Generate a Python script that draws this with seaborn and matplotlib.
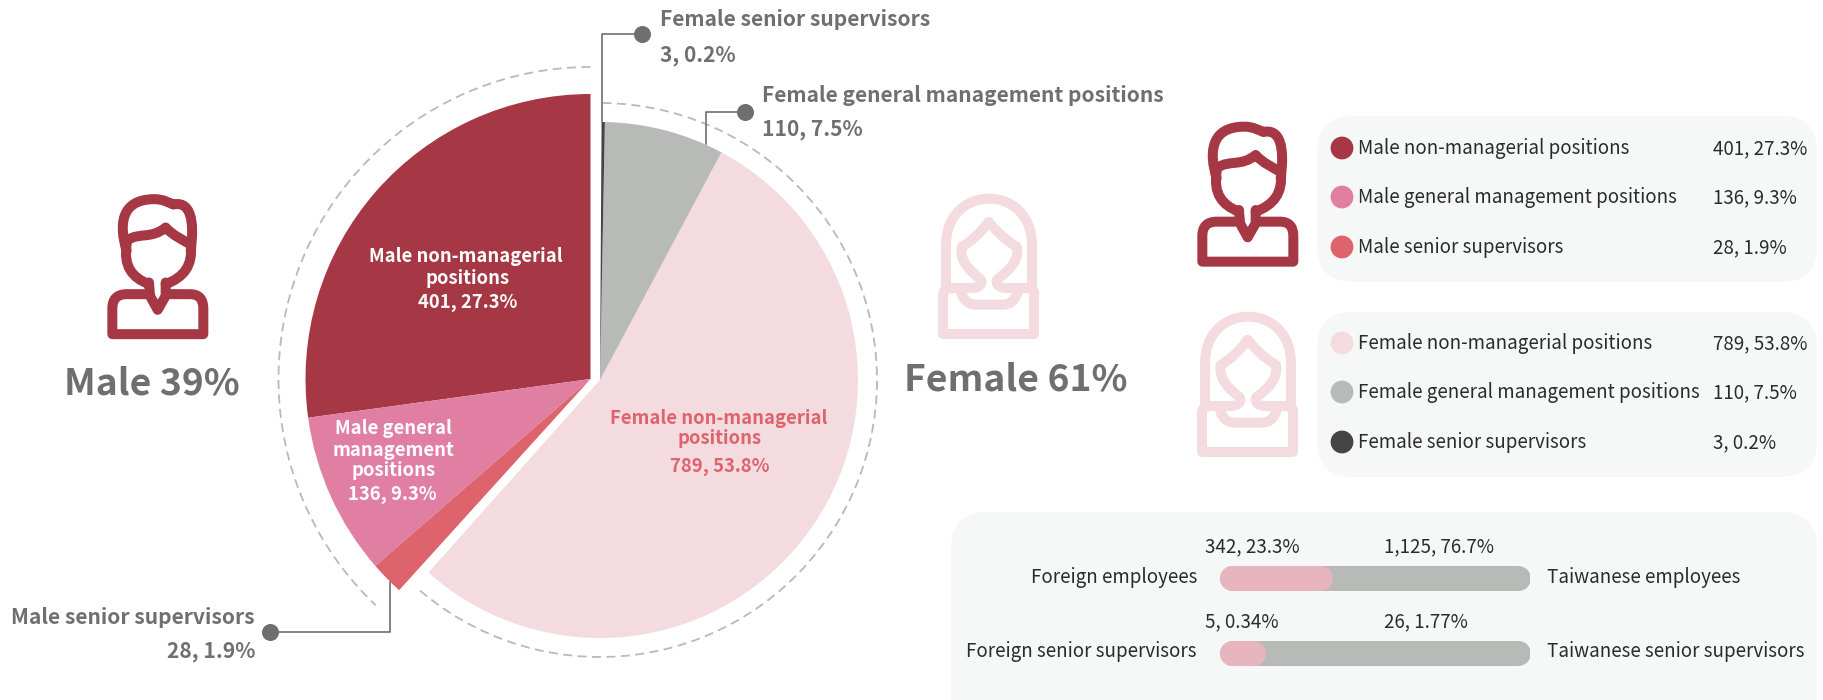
import numpy as np
import pandas as pd
import matplotlib
matplotlib.use("Agg")
import matplotlib.pyplot as plt
from matplotlib.patches import Arc, FancyBboxPatch, PathPatch
from matplotlib.path import Path
import seaborn as sns

# ---------- data ----------
male_labels = ["Male non-managerial positions", "Male general management positions", "Male senior supervisors"]
male_counts = [401, 136, 28]
male_share = ["27.3%", "9.3%", "1.9%"]
female_labels = ["Female non-managerial positions", "Female general management positions", "Female senior supervisors"]
female_counts = [789, 110, 3]
female_share = ["53.8%", "7.5%", "0.2%"]
male_colors = ["#a63744", "#e17fa3", "#dd636c"]
female_colors = ["#f4dbe0", "#b8bab8", "#474445"]
bar_left_labels = ["Foreign employees", "Foreign senior supervisors"]
bar_right_labels = ["Taiwanese employees", "Taiwanese senior supervisors"]
bar_left_values = ["342, 23.3%", "5, 0.34%"]
bar_right_values = ["1,125, 76.7%", "26, 1.77%"]
bar_fill_drawn = [36.6, 15.1]  # filled length of each track as drawn, % of track

sns.set_theme(style="white")
plt.rcParams["font.family"] = ["Noto Sans CJK TC", "DejaVu Sans"]

W, H = 1823, 700
fig = plt.figure(figsize=(W / 100, H / 100), dpi=100, facecolor="white")
ax = fig.add_axes([0, 0, 1, 1])
ax.set_facecolor("none")
Y = lambda py: H - py
PX = 0.72  # points per pixel
GREY = "#6f6f6f"
DARK = "#2b2b2b"
total = sum(male_counts) + sum(female_counts)

# ---------- panels ----------
for x0, y0, x1, y1 in [(1317, 116, 1817, 282), (1317, 312, 1817, 477), (951, 512, 1817, 740)]:
    r = 36
    ax.add_patch(FancyBboxPatch((x0 + r, Y(y1) + r), x1 - x0 - 2 * r, y1 - y0 - 2 * r,
                                boxstyle=f"round,pad={r},rounding_size={r}",
                                fc="#f6f8f7", ec="none", zorder=0))

# ---------- pies ----------
mc, fc_ = (590.5, Y(379)), (600, Y(380))
male_sweep = 0.994  # the male half is drawn very slightly short of its share
ax.pie([male_sweep * c / total for c in male_counts], colors=male_colors, center=mc, radius=285,
       startangle=90, normalize=False, frame=True, wedgeprops=dict(linewidth=0))
female_start = 90 + 360 * sum(male_counts) / total - 0.35
ax.pie([c / total for c in female_counts], colors=female_colors, center=fc_, radius=258,
       startangle=female_start, normalize=False, frame=True, wedgeprops=dict(linewidth=0))
ax.add_patch(Arc(mc, 624, 624, theta1=90, theta2=226.5, color="#b9b9b9", lw=1.3, ls=(0, (5, 3))))
ax.add_patch(Arc(fc_, 554, 554, theta1=229.5, theta2=450, color="#b9b9b9", lw=1.3, ls=(0, (5, 3))))

# ---------- callouts ----------
callouts = [([642, 602, 602], [34, 34, 122]),
            ([745, 706, 706], [112, 112, 144]),
            ([270, 390, 390], [632, 632, 582])]
for xs, ys in callouts:
    sns.lineplot(x=xs, y=[Y(v) for v in ys], sort=False, estimator=None, ax=ax,
                 color="#7a7a7a", lw=1.3, legend=False, zorder=3)
    sns.scatterplot(x=[xs[0]], y=[Y(ys[0])], ax=ax, color=GREY, s=150, linewidth=0, legend=False, zorder=4)


def txt(x, y, s, size=14, color=DARK, ha="left", weight=500, z=6):
    ax.text(x, Y(y), s, fontsize=size, color=color, ha=ha, va="center", fontweight=weight, zorder=z)


CALL = 15.1
txt(660, 20, female_labels[2], CALL, GREY, weight="bold")
txt(660, 55, f"{female_counts[2]}, {female_share[2]}", CALL, GREY, weight="bold")
txt(762, 96, female_labels[1], CALL, GREY, weight="bold")
txt(762, 129, f"{female_counts[1]}, {female_share[1]}", CALL, GREY, weight="bold")
txt(255, 617, male_labels[2], CALL, GREY, ha="right", weight="bold")
txt(255, 651, f"{male_counts[2]}, {male_share[2]}", CALL, GREY, ha="right", weight="bold")

IN = 13.3
txt(466, 256, "Male non-managerial", IN, "white", "center", "bold")
txt(468, 278, "positions", IN, "white", "center", "bold")
txt(468, 303, f"{male_counts[0]}, {male_share[0]}", IN, "white", "center", "bold")
txt(393, 429, "Male general", IN, "white", "center", "bold")
txt(393, 450, "management", IN, "white", "center", "bold")
txt(394, 471, "positions", IN, "white", "center", "bold")
txt(392, 495, f"{male_counts[1]}, {male_share[1]}", IN, "white", "center", "bold")
txt(719, 418, "Female non-managerial", IN, male_colors[2], "center", "bold")
txt(720, 439, "positions", IN, male_colors[2], "center", "bold")
txt(720, 467, f"{female_counts[0]}, {female_share[0]}", IN, male_colors[2], "center", "bold")

txt(152, 384, "Male 39%", 26.8, GREY, "center", "bold")
txt(1016, 380, "Female 61%", 26.8, GREY, "center", "bold")

# ---------- legends ----------
LEG = 13.5
for (labels, counts, share, colors, ys) in [
    (male_labels, male_counts, male_share, male_colors, [148, 197, 247]),
    (female_labels, female_counts, female_share, female_colors, [343, 392, 442]),
]:
    sns.scatterplot(x=[1342] * 3, y=[Y(v) for v in ys], hue=labels, palette=colors,
                    s=270, linewidth=0, legend=False, ax=ax, zorder=5)
    for lab, c, s, yy in zip(labels, counts, share, ys):
        txt(1358, yy + 0.5, lab, LEG)
        txt(1713, yy + 0.5, f"{c}, {s}", LEG)

# ---------- icons (local coordinates are 1/3 px) ----------
M, L, C3, C4, = Path.MOVETO, Path.LINETO, Path.CURVE3, Path.CURVE4
male_icon = [
    [(M, 150, 335), (L, 95, 335), (C3, 52, 335), (C3, 52, 378), (L, 52, 455), (L, 325, 455), (L, 325, 378),
     (C3, 325, 335), (C3, 285, 335), (L, 225, 335)],
    [(M, 162, 300), (L, 165, 340), (L, 188, 382), (L, 212, 340), (L, 212, 300)],
    [(M, 95, 205), (C4, 72, 130), (C4, 75, 50), (C4, 178, 50), (C4, 205, 50), (C4, 220, 60), (C4, 235, 66),
     (C4, 285, 55), (C4, 300, 110), (C4, 287, 205)],
    [(M, 95, 185), (C4, 85, 250), (C4, 110, 285), (C4, 162, 305)],
    [(M, 287, 185), (C4, 295, 250), (C4, 265, 285), (C4, 212, 305)],
    [(M, 100, 172), (C4, 130, 150), (C4, 170, 170), (C4, 212, 135), (C4, 235, 160), (C4, 260, 170), (C4, 285, 185)],
]
female_icon = [
    [(M, 60, 315), (L, 60, 190), (C4, 60, 100), (C4, 120, 50), (C4, 189, 50), (C4, 258, 50), (C4, 318, 100),
     (C4, 318, 190), (L, 318, 315)],
    [(M, 52, 335), (L, 52, 455), (L, 325, 455), (L, 325, 335)],
    [(M, 52, 335), (C3, 52, 318), (C3, 80, 318), (L, 135, 318)],
    [(M, 325, 335), (C3, 325, 318), (C3, 300, 318), (L, 243, 318)],
    [(M, 188, 120), (C3, 150, 170), (C3, 107, 195), (C4, 100, 235), (C4, 130, 265), (C4, 162, 290),
     (C4, 172, 300), (C4, 165, 318), (C4, 135, 318)],
    [(M, 188, 120), (C3, 230, 170), (C3, 273, 195), (C4, 280, 235), (C4, 250, 265), (C4, 216, 290),
     (C4, 206, 300), (C4, 213, 318), (C4, 243, 318)],
    [(M, 105, 330), (C4, 112, 355), (C4, 128, 368), (C4, 150, 368), (L, 230, 368), (C4, 252, 368), (C4, 268, 355),
     (C4, 275, 330)],
]


def draw_icon(spec, x0, y0, color):
    for part in spec:
        verts = [(x0 + a / 3, Y(y0 + b / 3)) for _, a, b in part]
        codes = [k for k, _, _ in part]
        ax.add_patch(PathPatch(Path(verts, codes), fc="none", ec=color, lw=10 * PX,
                               capstyle="round", joinstyle="round", zorder=5))


draw_icon(male_icon, 95, 182.5, male_colors[0])
draw_icon(male_icon, 1185, 110, male_colors[0])
draw_icon(female_icon, 926, 182, female_colors[0])
draw_icon(female_icon, 1185, 300, female_colors[0])

ax.set_xlim(0, W)
ax.set_ylim(0, H)
ax.axis("off")

# ---------- pill bars, on their own 0-100 scale ----------
bx0, bw, top, bh = 1219, 311, 553, 125
ax_b = fig.add_axes([bx0 / W, 1 - (top + bh) / H, bw / W, bh / H])
ax_b.set_facecolor("none")
cap = 12.5 / bw * 100
for i, fill in enumerate(bar_fill_drawn):
    track = pd.DataFrame({"share": [cap, 100 - cap], "row": [i, i]})
    part = pd.DataFrame({"share": [cap, fill - cap], "row": [i, i]})
    sns.lineplot(data=track, x="share", y="row", ax=ax_b, color="#b8bab8", lw=25 * PX, sort=False,
                 estimator=None, solid_capstyle="round", legend=False)
    sns.lineplot(data=part, x="share", y="row", ax=ax_b, color="#e8b4bd", lw=25 * PX, sort=False,
                 estimator=None, solid_capstyle="round", legend=False)
ax_b.set_xlim(0, 100)
ax_b.set_ylim(100 / 75, -25 / 75)
ax_b.axis("off")

for i, yy in enumerate([577, 652]):
    txt(1197, yy, bar_left_labels[i], LEG, ha="right")
    txt(1547, yy, bar_right_labels[i], LEG)
    txt(1205, yy - 30, bar_left_values[i], LEG)
    txt(1384, yy - 30, bar_right_values[i], LEG)

fig.savefig("out.png", dpi=100, facecolor="white")
